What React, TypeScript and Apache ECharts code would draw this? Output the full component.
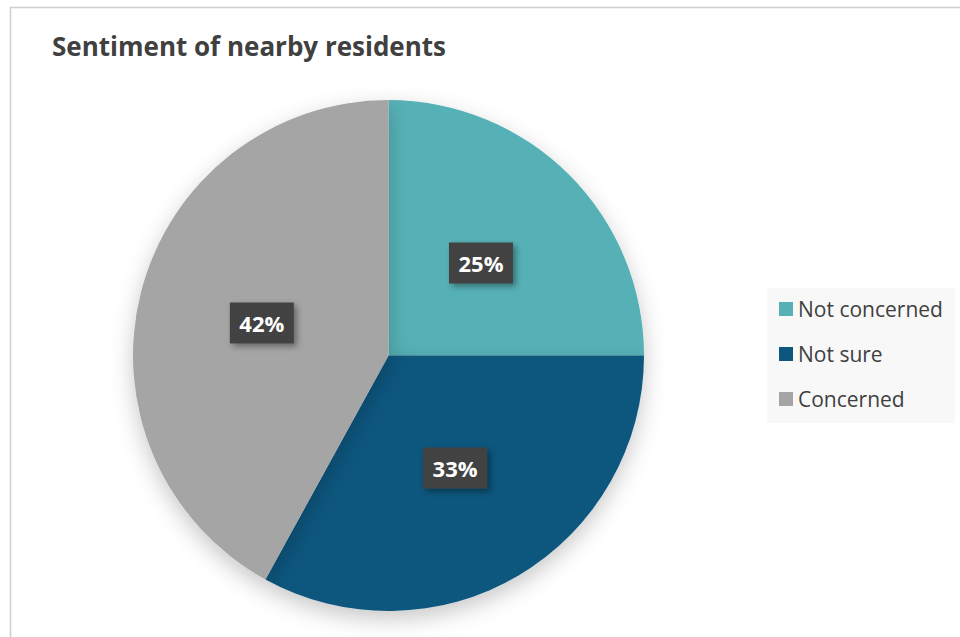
import React, { useEffect, useRef } from "react";
import * as echarts from "echarts";

const categories = ["Not concerned", "Not sure", "Concerned"];
const values = [25, 33, 42];
const colors = ["#56b1b6", "#0d567e", "#a5a5a5"];
const titleText = "Sentiment of nearby residents";

export default function App() {
  const ref = useRef<HTMLDivElement>(null);
  useEffect(() => {
    if (!ref.current) return;
    const chart = echarts.init(ref.current, null, { renderer: "svg" });
    chart.setOption({
      animation: false,
      backgroundColor: "#ffffff",
      title: {
        text: titleText,
        left: 47,
        top: 28,
        textStyle: { fontFamily: "Open Sans", fontWeight: "bold", fontSize: 26, color: "#404040" },
      },
      graphic: [
        {
          type: "rect",
          shape: { x: 10.5, y: 7.5, width: 1200, height: 1200 },
          style: { fill: "none", stroke: "#cfcfcf", lineWidth: 1.5 },
          silent: true,
        },
      ],
      legend: {
        orient: "vertical",
        left: 767,
        top: 288,
        backgroundColor: "#f8f8f8",
        padding: [9, 12, 12, 12],
        itemGap: 21,
        itemWidth: 14,
        itemHeight: 14,
        icon: "rect",
        selectedMode: false,
        textStyle: { fontFamily: "Open Sans", fontSize: 21, color: "#404040", lineHeight: 24 },
        data: categories,
      },
      series: [
        {
          type: "pie",
          center: [388.5, 355.5],
          radius: [0, 255.5],
          startAngle: 90,
          clockwise: true,
          silent: true,
          emphasis: { disabled: true },
          itemStyle: {
            shadowBlur: 22,
            shadowOffsetY: 8,
            shadowColor: "rgba(0,0,0,0.22)",
          },
          label: {
            show: true,
            position: "inside",
            formatter: (p: any) => `${p.value}%`,
            color: "#ffffff",
            fontFamily: "Open Sans",
            fontWeight: "bold",
            fontSize: 22,
            lineHeight: 25,
            width: 48,
            height: 25,
            overflow: "none",
            align: "center",
            backgroundColor: "#424242",
            padding: [8, 8, 8, 8],
            shadowBlur: 6,
            shadowOffsetX: 3,
            shadowOffsetY: 3,
            shadowColor: "rgba(0,0,0,0.38)",
          },
          labelLine: { show: false },
          data: categories.map((name, i) => ({
            name,
            value: values[i],
            itemStyle: { color: colors[i] },
          })),
        },
      ],
    });
    return () => chart.dispose();
  }, []);
  return (
    <div
      ref={ref}
      style={{ position: "fixed", left: 0, top: 0, width: 960, height: 637 }}
    />
  );
}
